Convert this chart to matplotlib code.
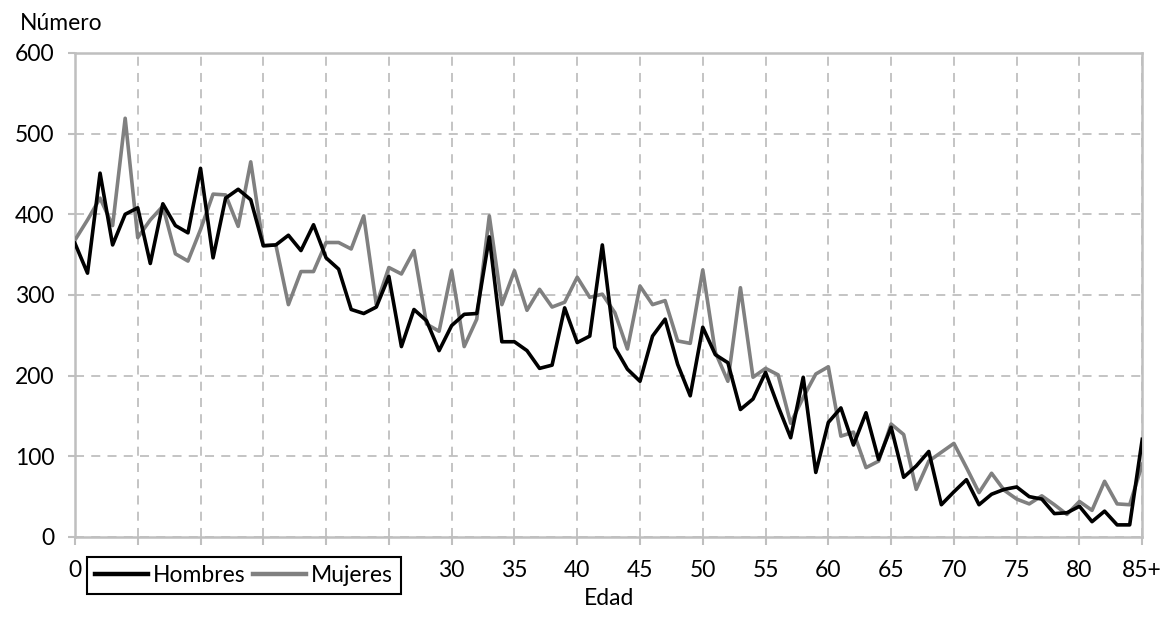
import matplotlib
matplotlib.use("Agg")
import matplotlib.pyplot as plt
import numpy as np

# Número de personas por edad (0 .. 85+)
edades = np.arange(0, 86)
hombres = [364, 327, 451, 362, 400, 408, 339, 413, 386, 377,
           457, 346, 420, 431, 418, 361, 362, 374, 355, 387,
           346, 332, 282, 277, 285, 323, 236, 282, 268, 231,
           262, 276, 277, 372, 242, 242, 231, 209, 213, 284,
           241, 249, 362, 235, 208, 193, 249, 270, 214, 175,
           260, 226, 216, 158, 171, 204, 162, 123, 198, 80,
           142, 160, 114, 154, 96, 136, 74, 88, 106, 40,
           56, 71, 40, 53, 59, 62, 50, 47, 29, 30,
           38, 19, 32, 15, 15, 121]
mujeres = [368, 393, 420, 386, 519, 371, 393, 410, 351, 342,
           381, 425, 424, 385, 465, 361, 362, 288, 329, 329,
           365, 365, 357, 398, 288, 334, 326, 355, 264, 255,
           330, 236, 270, 398, 288, 330, 281, 307, 285, 291,
           322, 297, 301, 278, 233, 311, 288, 293, 243, 240,
           331, 229, 193, 309, 198, 209, 201, 141, 173, 202,
           211, 125, 130, 86, 94, 140, 127, 59, 94, 105,
           116, 86, 55, 79, 58, 47, 41, 51, 40, 28,
           44, 33, 69, 41, 40, 90]
xticks = list(range(0, 86, 5))
xlabels = [str(v) for v in range(0, 85, 5)] + ["85+"]

plt.rcParams["font.family"] = ["Lato", "DejaVu Sans"]
fs = 16.5
gris = "#BFBFBF"

fig = plt.figure(figsize=(11.62, 6.19), dpi=100)
ax = fig.add_axes([0.0645, 0.1325, 0.9185, 0.782])

l1, = ax.plot(edades, hombres, color="black", lw=2.6, label="Hombres", zorder=4)
l2, = ax.plot(edades, mujeres, color="#808080", lw=2.6, label="Mujeres", zorder=3)

ax.set_xlim(0, 85)
ax.set_ylim(0, 600)
ax.set_xticks(xticks)
ax.set_xticklabels(xlabels, fontsize=fs)
ax.set_yticks(range(0, 601, 100))
ax.tick_params(axis="y", labelsize=fs, length=5, color=gris, width=1.5, pad=10)
ax.tick_params(axis="x", length=5.5, color=gris, width=1.5, pad=11)
ax.grid(True, color=gris, linestyle=(0, (5, 4)), linewidth=1.3)
ax.set_axisbelow(True)
for s in ax.spines.values():
    s.set_color(gris)
    s.set_linewidth(1.8)

ax.set_xlabel("Edad", fontsize=fs, labelpad=5)
fig.text(0.017, 0.962, "Número", fontsize=fs, ha="left", va="center")

leg = fig.legend(handles=[l1, l2], loc="lower left", ncol=2,
                 bbox_to_anchor=(0.0749, 0.0404), bbox_transform=fig.transFigure,
                 fontsize=fs, frameon=True, fancybox=False, framealpha=1,
                 edgecolor="black", handlelength=2.3, handletextpad=0.22,
                 columnspacing=0.35, borderpad=0.35, borderaxespad=0)
leg.get_frame().set_linewidth(1.5)
for h in leg.get_lines():
    h.set_linewidth(3.2)

fig.savefig("out.png", dpi=100, facecolor="white")
